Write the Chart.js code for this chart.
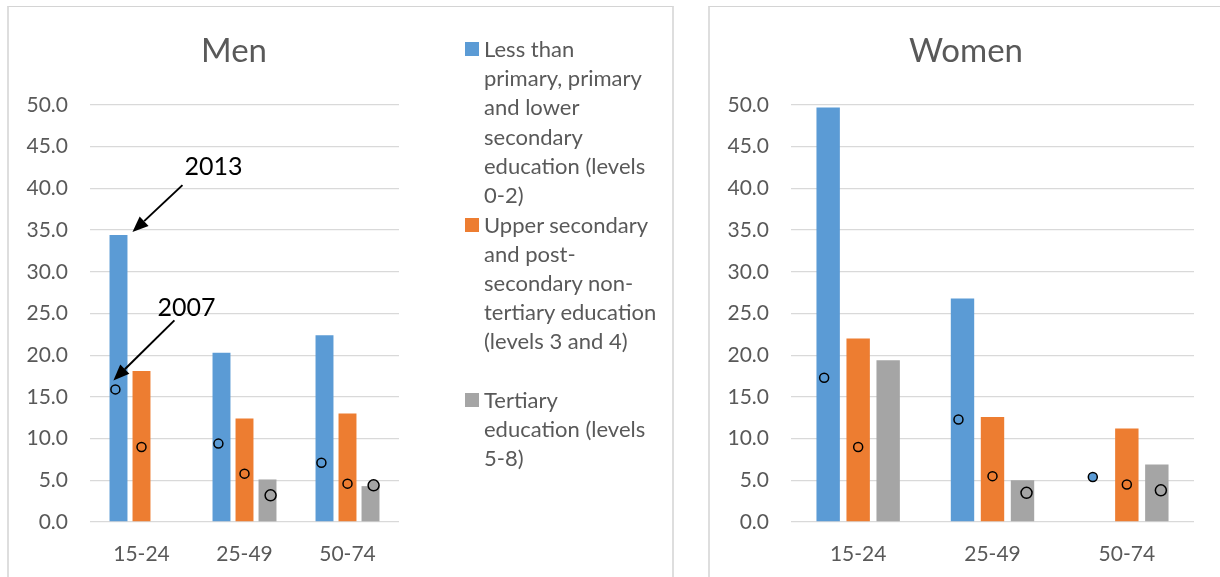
<!DOCTYPE html>
<html>
<head>
<meta charset="utf-8">
<script src="https://cdn.jsdelivr.net/npm/chart.js@4.4.1/dist/chart.umd.min.js"></script>
<style>
  html, body { margin: 0; padding: 0; background: #fff; width: 1220px; height: 577px; overflow: hidden; font-family: Lato, sans-serif; }
  .panel { position: absolute; top: 6px; height: 620px; border: 2px solid #dedede; border-top: 1px solid #d4d4d4; border-bottom: none; box-sizing: border-box; }
  #menPanel { left: 7px; width: 667px; }
  #womenPanel { left: 708px; width: 560px; }
  canvas { position: absolute; top: 7px; }
  #men { left: 9px; }
  #women { left: 710px; }
  .title { position: absolute; top: 29px; width: 200px; height: 40px; line-height: 40px; text-align: center; color: #595959; font: 33px Lato, sans-serif; }
  #menTitle { left: 134px; }
  #womenTitle { left: 866px; }
  #legend { position: absolute; left: 465px; top: 34px; color: #595959; font: 22px Lato, sans-serif; line-height: 29.2px; }
  .item { position: relative; height: 175.5px; }
  .swatch { position: absolute; left: 0; top: 8px; width: 14px; height: 14px; }
  .text { margin-left: 19px; white-space: nowrap; }
</style>
</head>
<body>
<div class="panel" id="menPanel"></div>
<div class="panel" id="womenPanel"></div>
<canvas id="men" width="663" height="570"></canvas>
<canvas id="women" width="510" height="570"></canvas>
<div class="title" id="menTitle">Men</div>
<div class="title" id="womenTitle">Women</div>
<div id="legend"></div>

<script>
const ageGroups = ['15-24', '25-49', '50-74'];
const seriesColors = ['#5B9BD5', '#ED7D31', '#A5A5A5'];
const legendLines = [
  ['Less than', 'primary, primary', 'and lower', 'secondary', 'education (levels', '0-2)'],
  ['Upper secondary', 'and post-', 'secondary non-', 'tertiary education', '(levels 3 and 4)'],
  ['Tertiary', 'education (levels', '5-8)']
];

// 2013 values (bars)
const men2013Low = [34.4, 20.3, 22.4];
const men2013Mid = [18.1, 12.4, 13.0];
const men2013High = [null, 5.1, 4.3];
const women2013Low = [49.7, 26.8, null];
const women2013Mid = [22.0, 12.6, 11.2];
const women2013High = [19.4, 5.0, 6.9];

// 2007 values (circles)
const men2007Low = [15.9, 9.4, 7.1];
const men2007Mid = [9.0, 5.8, 4.6];
const men2007High = [null, 3.2, 4.4];
const women2007Low = [17.3, 12.3, 5.4];
const women2007Mid = [9.0, 5.5, 4.5];
const women2007High = [null, 3.5, 3.8];

const textGrey = '#595959';
const barGroupWidth = 0.67;
const dotGroupWidth = 0.76;

// 2007 points follow the 2013 bars of the same series, spread a bit wider
const spreadPlugin = {
  id: 'spreadDots',
  afterDatasetsUpdate(chart) {
    const xScale = chart.scales.x;
    chart.data.datasets.forEach((ds, i) => {
      if (ds.type !== 'line') return;
      const bars = chart.getDatasetMeta(ds.barIndex).data;
      chart.getDatasetMeta(i).data.forEach((pt, j) => {
        const mid = xScale.getPixelForValue(j);
        pt.x = mid + (bars[j].x - mid) * dotGroupWidth / barGroupWidth;
      });
    });
  }
};

function arrow(ctx, x0, y0, x1, y1) {
  const a = Math.atan2(y1 - y0, x1 - x0);
  const head = 16, half = 6.5;
  const bx = x1 - head * Math.cos(a), by = y1 - head * Math.sin(a);
  ctx.beginPath();
  ctx.moveTo(x0, y0);
  ctx.lineTo(bx, by);
  ctx.lineWidth = 2;
  ctx.strokeStyle = '#000';
  ctx.stroke();
  ctx.beginPath();
  ctx.moveTo(x1, y1);
  ctx.lineTo(bx + half * Math.sin(a), by - half * Math.cos(a));
  ctx.lineTo(bx - half * Math.sin(a), by + half * Math.cos(a));
  ctx.closePath();
  ctx.fillStyle = '#000';
  ctx.fill();
}

// "2013" / "2007" callouts on the first men group
const calloutPlugin = {
  id: 'yearCallouts',
  afterDatasetsDraw(chart) {
    const bar = chart.getDatasetMeta(0).data[0];
    const dot = chart.getDatasetMeta(3).data[0];
    const ctx = chart.ctx;
    ctx.save();
    const ax = bar.x + bar.width / 2 + 5, ay = bar.y - 3;
    arrow(ctx, ax + 50, ay - 47, ax, ay);
    const bx = dot.x - 2, by = dot.y - 9;
    arrow(ctx, bx + 61, by - 60, bx, by);
    ctx.font = '25px Lato';
    ctx.fillStyle = '#000';
    ctx.textAlign = 'center';
    ctx.textBaseline = 'middle';
    ctx.fillText('2013', ax + 81, ay - 65);
    ctx.fillText('2007', bx + 73, by - 72);
    ctx.restore();
  }
};

function buildChart(id, bars, dots, padRight, extra) {
  const datasets = bars.map((d, i) => ({
    label: legendLines[i].join(' ') + ' 2013',
    data: d,
    backgroundColor: seriesColors[i],
    categoryPercentage: barGroupWidth,
    barPercentage: 0.78,
    order: 1
  })).concat(dots.map((d, i) => ({
    type: 'line',
    label: legendLines[i].join(' ') + ' 2007',
    data: d,
    barIndex: i,
    showLine: false,
    pointRadius: i === 2 ? 5.5 : 4.5,
    pointBackgroundColor: seriesColors[i],
    pointBorderColor: '#000',
    pointBorderWidth: 1.5,
    order: 0
  })));

  return new Chart(document.getElementById(id), {
    type: 'bar',
    data: { labels: ageGroups, datasets: datasets },
    options: {
      responsive: false,
      animation: false,
      events: [],
      layout: { padding: { left: 0, right: padRight, top: 98, bottom: 0 } },
      plugins: {
        legend: { display: false },
        tooltip: { enabled: false },
        title: { display: false }
      },
      scales: {
        x: {
          grid: { display: false },
          border: { display: false },
          ticks: { color: textGrey, font: { family: 'Lato', size: 21 }, padding: 12 },
          afterFit: s => { s.height = 55; }
        },
        y: {
          min: 0,
          max: 50,
          ticks: { stepSize: 5, callback: v => v.toFixed(1), color: textGrey, font: { family: 'Lato', size: 21 }, padding: 22 },
          grid: { color: '#d9d9d9', lineWidth: 1.3, drawTicks: false },
          border: { display: false },
          afterFit: s => { s.width = 81; }
        }
      }
    },
    plugins: [spreadPlugin].concat(extra)
  });
}

buildChart('men',
  [men2013Low, men2013Mid, men2013High],
  [men2007Low, men2007Mid, men2007High],
  273, [calloutPlugin]);

buildChart('women',
  [women2013Low, women2013Mid, women2013High],
  [women2007Low, women2007Mid, women2007High],
  26, []);

// legend beside the men chart
const legend = document.getElementById('legend');
legendLines.forEach((lines, i) => {
  const item = document.createElement('div');
  item.className = 'item';
  const sw = document.createElement('div');
  sw.className = 'swatch';
  sw.style.background = seriesColors[i];
  const txt = document.createElement('div');
  txt.className = 'text';
  txt.innerHTML = lines.join('<br>');
  item.appendChild(sw);
  item.appendChild(txt);
  legend.appendChild(item);
});
</script>
</body>
</html>
